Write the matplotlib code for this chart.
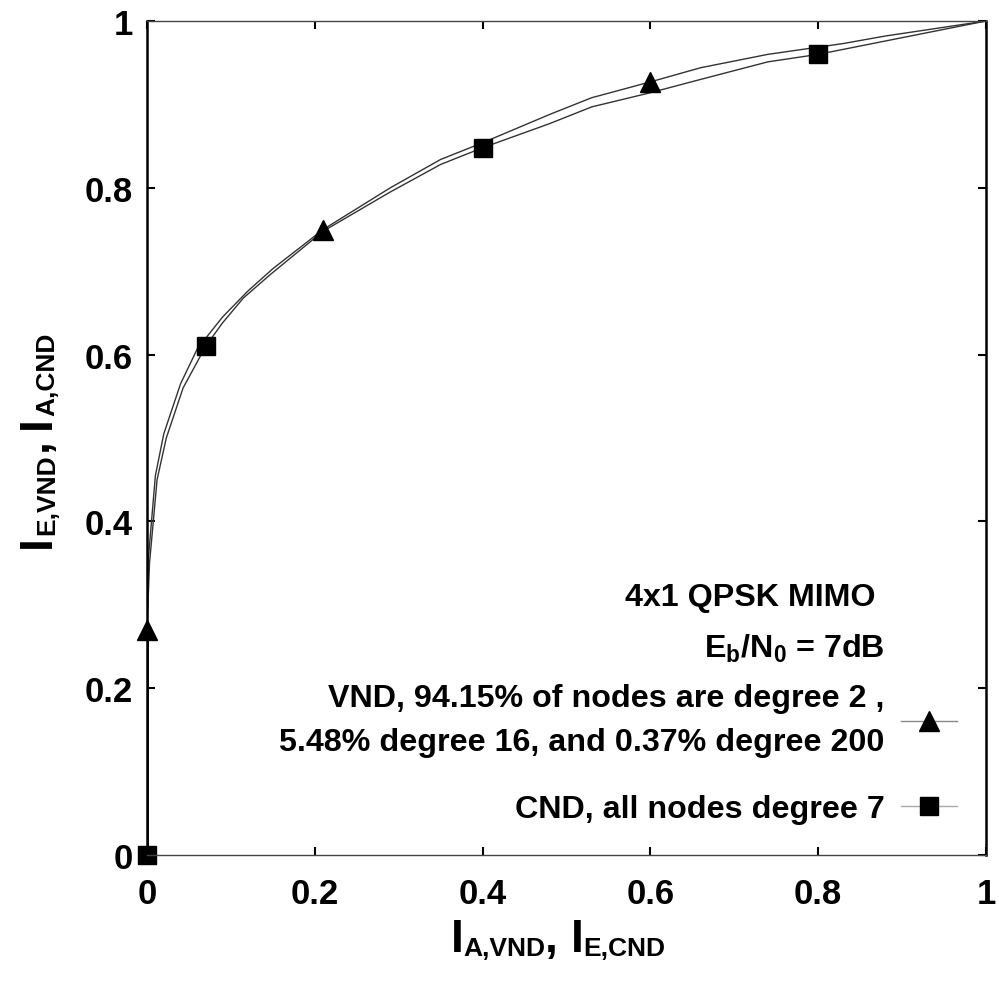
import numpy as np
import matplotlib
matplotlib.use("Agg")
import matplotlib.pyplot as plt
from matplotlib.lines import Line2D

plt.rcParams["font.family"] = ["Liberation Sans", "DejaVu Sans"]
plt.rcParams["font.weight"] = "bold"
plt.rcParams["mathtext.fontset"] = "custom"
plt.rcParams["mathtext.rm"] = "Liberation Sans"
plt.rcParams["mathtext.bf"] = "Liberation Sans:bold"

# VND curve: I_A,VND -> I_E,VND
vnd_x = [0, 0.002, 0.01, 0.02, 0.04, 0.06, 0.09, 0.12, 0.15, 0.21, 0.29, 0.35,
         0.40, 0.48, 0.53, 0.60, 0.66, 0.74, 0.83, 0.88, 1.0]
vnd_y = [0.27, 0.36, 0.455, 0.505, 0.565, 0.607, 0.645, 0.676, 0.703, 0.750, 0.800, 0.834,
         0.854, 0.888, 0.908, 0.927, 0.944, 0.960, 0.973, 0.982, 1.0]
vnd_mx = [0, 0.21, 0.6]
vnd_my = [0.27, 0.75, 0.927]

# CND curve (inverted): I_E,CND -> I_A,CND
cnd_x = [0, 0.0, 0.003, 0.012, 0.023, 0.043, 0.07, 0.09, 0.115, 0.147, 0.21, 0.29,
         0.35, 0.40, 0.48, 0.53, 0.60, 0.66, 0.74, 0.80, 0.88, 1.0]
cnd_y = [0, 0.27, 0.35, 0.45, 0.50, 0.56, 0.61, 0.638, 0.668, 0.696, 0.748, 0.795,
         0.828, 0.848, 0.877, 0.897, 0.914, 0.930, 0.951, 0.960, 0.976, 1.0]
cnd_mx = [0, 0.07, 0.40, 0.80]
cnd_my = [0, 0.61, 0.848, 0.96]

tick_vals = [0, 0.2, 0.4, 0.6, 0.8, 1]
tick_labels = ["0", "0.2", "0.4", "0.6", "0.8", "1"]

W, H = 999, 987
fig = plt.figure(figsize=(W / 100, H / 100), dpi=100)
ax = fig.add_axes([147 / W, 1 - 856 / H, 839 / W, 834 / H])

line_c = "#333333"
ax.plot(cnd_x, cnd_y, color=line_c, lw=1.0)
ax.plot(vnd_x, vnd_y, color=line_c, lw=1.0)
ax.plot(cnd_x[:2], cnd_y[:2], color="black", lw=2.0)
ax.plot(vnd_mx, vnd_my, "^", color="black", ms=15, ls="none", clip_on=False)
ax.plot(cnd_mx, cnd_my, "s", color="black", ms=13.5, ls="none", clip_on=False)

ax.set_xlim(0, 1)
ax.set_ylim(0, 1)
ax.set_xticks(tick_vals)
ax.set_xticklabels(tick_labels)
ax.set_yticks(tick_vals)
ax.set_yticklabels(tick_labels)
ax.tick_params(axis="both", direction="in", length=6, width=1.5, top=True, right=True,
               labelsize=25, color="black")
ax.tick_params(axis="x", pad=16)
ax.tick_params(axis="y", pad=10)
for s in ["top", "bottom"]:
    ax.spines[s].set_linewidth(1.0)
    ax.spines[s].set_color("#444444")
for s in ["left", "right"]:
    ax.spines[s].set_linewidth(1.8)
    ax.spines[s].set_color("black")


def piece_label(pieces, cx, cy, vertical=False):
    """Draw an axis label from (text, size, drop_px) pieces, centred at pixel (cx, cy)."""
    r = fig.canvas.get_renderer()
    widths = []
    for s, size, _ in pieces:
        t = fig.text(0, 0, s, fontsize=size)
        widths.append(t.get_window_extent(r).width)
        t.remove()
    pos = -sum(widths) / 2
    for (s, size, drop), w in zip(pieces, widths):
        if vertical:
            fig.text((cx + drop) / W, 1 - (cy - pos) / H, s, fontsize=size, rotation=90,
                     rotation_mode="anchor", ha="left", va="baseline")
        else:
            fig.text((cx + pos) / W, 1 - (cy + drop) / H, s, fontsize=size,
                     ha="left", va="baseline")
        pos += w


main_fs, sub_fs = 33, 19
piece_label([("I", main_fs, 0), ("A,VND", sub_fs, 4), (", ", main_fs, 0),
             ("I", main_fs, 0), ("E,CND", sub_fs, 4)], 558, 952)
piece_label([("I", main_fs, 0), ("E,VND", sub_fs, 4), (", ", main_fs, 0),
             ("I", main_fs, 0), ("A,CND", sub_fs, 4)], 50, 440, vertical=True)

# legend: header lines + VND entry, then CND entry a little further down
leg_fs = 23.2
leg_x = (973 - 147) / 839
blank = Line2D([], [], ls="none", marker=None)
h_vnd = Line2D([], [], color="#888888", lw=1.0, marker="^", ms=15, mfc="black", mec="black")
h_cnd = Line2D([], [], color="#aaaaaa", lw=1.0, marker="s", ms=13.5, mfc="black", mec="black")
common = dict(frameon=False, markerfirst=False, fontsize=leg_fs, handlelength=1.75,
              handletextpad=0.5, borderpad=0)
leg1 = ax.legend([blank, blank, h_vnd],
                 ["4x1 QPSK MIMO ", r"E$_\mathbf{b}$/N$_\mathbf{0}$ = 7dB",
                  "VND, 94.15% of nodes are degree 2 ,\n5.48% degree 16, and 0.37% degree 200"],
                 loc="upper right", bbox_to_anchor=(leg_x, (856 - 567) / 834),
                 labelspacing=0.6, **common)
for t in leg1.get_texts():
    t.set_multialignment("right")
    t.set_linespacing(1.62)
ax.add_artist(leg1)
ax.legend([h_cnd], ["CND, all nodes degree 7"], loc="center right",
          bbox_to_anchor=(leg_x, (856 - 810) / 834), **common)

fig.savefig("out.png", dpi=100)
